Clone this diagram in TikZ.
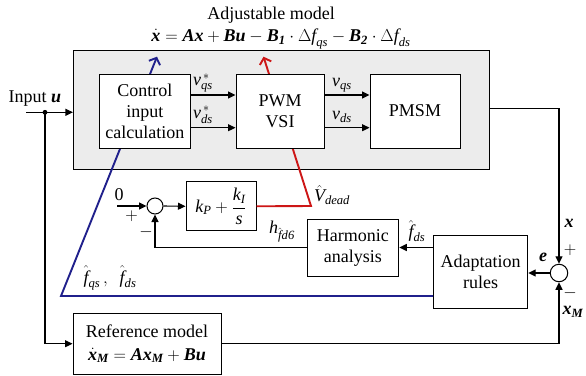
\documentclass[tikz,border=0pt]{standalone}
\usepackage{amsmath}
\usepackage{fontspec}
\setmainfont{Liberation Serif}
\usetikzlibrary{arrows.meta,calc}
\definecolor{ctlblue}{RGB}{32,32,140}
\definecolor{ctlred}{RGB}{205,22,22}
\definecolor{panel}{RGB}{236,236,236}
% bold-italic and italic symbols set in the text font
\newcommand{\bi}[1]{\text{\bfseries\itshape #1}}
\newcommand{\ti}[1]{\text{\itshape #1}}

\begin{document}
\begin{tikzpicture}[x=1pt,y=-1pt,
  font=\fontsize{18}{21}\selectfont,
  blk/.style={draw, fill=white, line width=1pt, align=center, inner sep=0pt},
  arr/.style={-{Triangle[length=7.5pt,width=7pt]}, line width=1.1pt},
  est/.style={line width=1.9pt, -{Straight Barb[length=5.5pt,width=12pt]}},
  sumc/.style={circle, draw, fill=white, line width=1pt, minimum size=16pt, inner sep=0pt},
  lbl/.style={inner sep=0pt}]
\useasboundingbox (0,0) rectangle (586,375);

% adjustable model panel
\node[draw, fill=panel, line width=1.1pt, minimum width=416pt, minimum height=118.6pt, inner sep=0pt] (adj) at (281.5,110) {};
\node[lbl] (ttl) at (271,15) {Adjustable model};
\node[lbl] (eqa) at (281,39) {$\dot{\bi{x}} = \bi{A}\bi{x} + \bi{B}\bi{u} - \bi{B}_{\bi{1}}\cdot\Delta\ti{f}_{\ti{qs}} - \bi{B}_{\bi{2}}\cdot\Delta\ti{f}_{\ti{ds}}$};

% estimate feedback paths (drawn under the blocks)
\coordinate (bb) at (61,296);
\coordinate (bt) at (157,56.7);
\coordinate (rb) at (311,206);
\coordinate (rt) at (263.5,56.7);

% blocks
\node[blk, minimum width=70pt, minimum height=49.3pt] (kp) at (221,206.3) {$\ti{k}_{\ti{P}} + \dfrac{\ti{k}_{\ti{I}}}{\ti{s}}$};
\node[blk, minimum width=91.7pt, minimum height=57pt] (ha) at (352.9,247.5) {Harmonic\\analysis};
\node[blk, minimum width=94.2pt, minimum height=73pt] (ad) at (480.6,272) {Adaptation\\rules};
\node[blk, minimum width=148pt, minimum height=60.7pt] (ref) at (147,343.7) {Reference model\\[2pt]$\dot{\bi{x}}_{\bi{M}} = \bi{A}\bi{x}_{\bi{M}} + \bi{B}\bi{u}$};

\draw[est, ctlblue] (ad.west |- bb) -- (bb) -- (bt);
\draw[est, ctlred] (kp.east) -- (rb) -- (rt);

\node[blk, minimum width=91.6pt, minimum height=74pt] (ctrl) at (144.8,111) {Control\\input\\calculation};
\node[blk, minimum width=88pt, minimum height=74pt] (pwm) at (280,111) {PWM\\VSI};
\node[blk, minimum width=90pt, minimum height=74pt] (pmsm) at (415,111) {PMSM};

\node[sumc] (s1) at (155,206) {};
\node[sumc, minimum size=17.5pt] (s2) at (559,273) {};

% signal connections inside the panel
\draw[arr] ([yshift=16pt]ctrl.east) -- ([yshift=16pt]pwm.west);
\draw[arr] ([yshift=-16.7pt]ctrl.east) -- ([yshift=-16.7pt]pwm.west);
\draw[arr] ([yshift=16pt]pwm.east) -- ([yshift=16pt]pmsm.west);
\draw[arr] ([yshift=-16.7pt]pwm.east) -- ([yshift=-16.7pt]pmsm.west);
\node[lbl] (vqsr) at (203,83) {$\ti{v}^{\,*}_{\ti{qs}}$};
\node[lbl] (vdsr) at (203,115) {$\ti{v}^{\,*}_{\ti{ds}}$};
\node[lbl] (vqs) at (342,85) {$\ti{v}_{\ti{qs}}$};
\node[lbl] (vds) at (342,117) {$\ti{v}_{\ti{ds}}$};

% input
\coordinate (inp) at (26,112.3);
\coordinate (jn) at (45,112.3);
\node[lbl] (inl) at (35,99) {Input $\bi{u}$};
\draw[arr] (inp) -- (inp -| adj.west);
\fill (jn) circle (2.4pt);
\draw[arr] (jn) |- (ref.west);

% plant output and error
\coordinate (rc) at (559,108.3);
\draw[arr] (adj.east |- rc) -- (rc) -- (s2.north);
\draw[arr] (ref.east) -| (s2.south);
\draw[arr] (s2.west) -- (s2.west -| ad.east);
\node[lbl] (xl) at (569,223) {$\bi{x}$};
\node[lbl] (pl2) at (570,250) {$+$};
\node[lbl] (mi2) at (570,293) {$-$};
\node[lbl] (xml) at (573,312) {$\bi{x}_{\bi{M}}$};
\node[lbl] (el) at (543,257) {$\bi{e}$};

% dead-time compensation loop
\draw[arr] (ad.west |- ha.east) -- (ha.east);
\node[lbl] (fdl) at (417,231) {$\hat{\ti{f}}_{\ti{ds}}$};
\draw[arr] (ha.west) -| (s1.south);
\node[lbl] (hl) at (282,232) {$\ti{h}_{\hat{\ti{f}}\ti{d6}}$};
\coordinate (z0) at (117,206);
\draw[arr] (z0) -- (s1.west);
\draw[arr] (s1.east) -- (kp.west);
\node[lbl] (zl) at (119,195) {0};
\node[lbl] (pl1) at (131.5,216) {$+$};
\node[lbl] (mi1) at (146,231.7) {$-$};
\node[lbl] (vdl) at (332,195) {$\hat{\ti{V}}_{\ti{dead}}$};
\node[lbl] (fql) at (110,278) {$\hat{\ti{f}}_{\ti{qs}}\,,\ \ \hat{\ti{f}}_{\ti{ds}}$};
\end{tikzpicture}
\end{document}
